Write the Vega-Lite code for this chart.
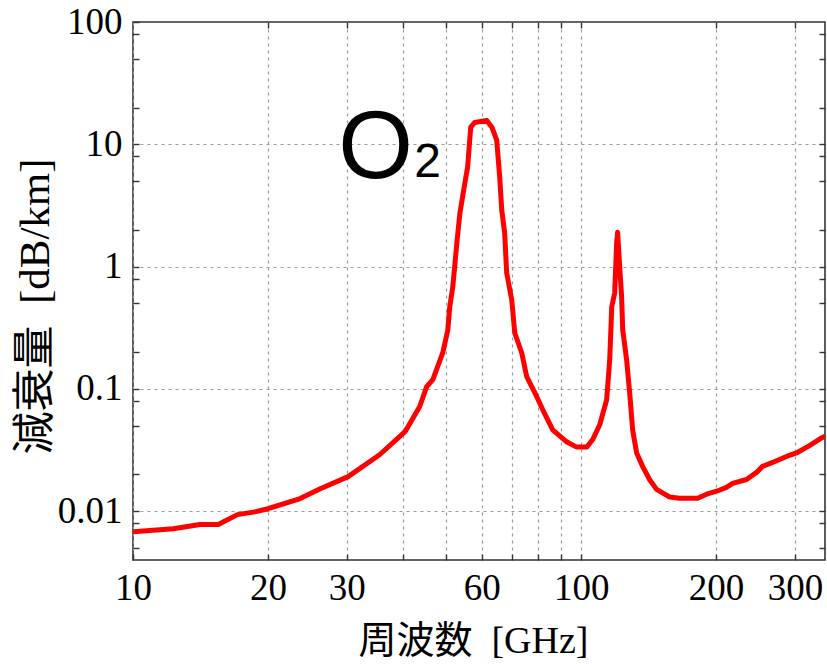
{
  "$schema": "https://vega.github.io/schema/vega-lite/v6.json",
  "width": 692,
  "height": 538,
  "autosize": "none",
  "padding": {"left": 133, "top": 22, "right": 2, "bottom": 104},
  "background": "white",
  "config": {
    "view": {"stroke": "#333333", "strokeWidth": 1.6},
    "axis": {
      "domain": false,
      "labelFont": "Liberation Serif",
      "labelFontSize": 37,
      "labelColor": "black",
      "titleFont": "Liberation Serif, Noto Sans CJK JP",
      "titleColor": "black",
      "titleFontWeight": "normal",
      "tickColor": "#333333",
      "tickWidth": 1.4,
      "tickSize": -6,
      "gridColor": "#9a9a9a",
      "gridDash": [3, 4],
      "gridWidth": 1.2
    }
  },
  "datasets": {
    "curve": [
      {"f": 10, "a": 0.0068},
      {"f": 12.3, "a": 0.0072},
      {"f": 14.1, "a": 0.0078},
      {"f": 15.5, "a": 0.0078},
      {"f": 17.1, "a": 0.0094},
      {"f": 18.7, "a": 0.0099},
      {"f": 20, "a": 0.0105},
      {"f": 23.6, "a": 0.0127},
      {"f": 26.1, "a": 0.0152},
      {"f": 30.2, "a": 0.0192},
      {"f": 35.5, "a": 0.029},
      {"f": 39.4, "a": 0.041},
      {"f": 40.5, "a": 0.045},
      {"f": 43.6, "a": 0.0716},
      {"f": 45.2, "a": 0.104},
      {"f": 46.7, "a": 0.12},
      {"f": 49.1, "a": 0.197},
      {"f": 50.4, "a": 0.304},
      {"f": 50.9, "a": 0.468},
      {"f": 51.7, "a": 0.68},
      {"f": 52.8, "a": 1.56},
      {"f": 53.6, "a": 2.7},
      {"f": 55.0, "a": 4.8},
      {"f": 55.8, "a": 6.5},
      {"f": 56.7, "a": 13.8},
      {"f": 57.9, "a": 15.1},
      {"f": 61.5, "a": 15.7},
      {"f": 63.2, "a": 13.8},
      {"f": 64.8, "a": 10.8},
      {"f": 65.8, "a": 5.4},
      {"f": 66.5, "a": 2.9},
      {"f": 67.5, "a": 1.88},
      {"f": 68.2, "a": 0.89},
      {"f": 70.0, "a": 0.535},
      {"f": 71.1, "a": 0.287},
      {"f": 73.7, "a": 0.197},
      {"f": 75.6, "a": 0.126},
      {"f": 79.6, "a": 0.0865},
      {"f": 82.1, "a": 0.0676},
      {"f": 86.4, "a": 0.0464},
      {"f": 92.8, "a": 0.037},
      {"f": 97.7, "a": 0.0335},
      {"f": 102.9, "a": 0.0335},
      {"f": 106.1, "a": 0.0386},
      {"f": 110, "a": 0.051},
      {"f": 114, "a": 0.0817},
      {"f": 115.8, "a": 0.173},
      {"f": 117, "a": 0.468},
      {"f": 118.8, "a": 0.61},
      {"f": 120, "a": 1.56},
      {"f": 120.6, "a": 1.91},
      {"f": 121.9, "a": 0.99},
      {"f": 123.1, "a": 0.57},
      {"f": 123.8, "a": 0.304},
      {"f": 126.3, "a": 0.173},
      {"f": 128.3, "a": 0.093},
      {"f": 130.3, "a": 0.046},
      {"f": 133, "a": 0.030},
      {"f": 137.1, "a": 0.0233},
      {"f": 142.1, "a": 0.0182},
      {"f": 147.3, "a": 0.0151},
      {"f": 157.5, "a": 0.0131},
      {"f": 165.8, "a": 0.0128},
      {"f": 181.9, "a": 0.0128},
      {"f": 190.5, "a": 0.0138},
      {"f": 200.5, "a": 0.0146},
      {"f": 211, "a": 0.0157},
      {"f": 217.7, "a": 0.0169},
      {"f": 233.9, "a": 0.0182},
      {"f": 246.2, "a": 0.0208},
      {"f": 253.9, "a": 0.0233},
      {"f": 267.3, "a": 0.0251},
      {"f": 287.2, "a": 0.0281},
      {"f": 302.3, "a": 0.030},
      {"f": 323.2, "a": 0.0344},
      {"f": 343.8, "a": 0.0398},
      {"f": 350, "a": 0.041}
    ],
    "labels": [
      {"f": 28.7, "a": 5.3, "t": "O", "kind": "main"},
      {"f": 42.4, "a": 5.4, "t": "2", "kind": "sub"}
    ]
  },
  "layer": [
    {
      "data": {"name": "curve"},
      "mark": {"type": "line", "color": "#ff0000", "strokeWidth": 5, "strokeJoin": "round", "clip": true},
      "encoding": {
        "x": {
          "field": "f", "type": "quantitative",
          "scale": {"type": "log", "domain": [10, 350], "nice": false},
          "axis": {
            "orient": "bottom",
            "values": [10, 20, 30, 40, 50, 60, 70, 80, 90, 100, 200, 300],
            "labelExpr": "indexof([10,20,30,60,100,200,300], datum.value) >= 0 ? '' + datum.value : ''",
            "labelPadding": 16,
            "labelFlush": false,
            "grid": true,
            "title": "周波数\u00a0\u00a0[GHz]",
            "titleFontSize": 38,
            "titleX": 340,
            "titleY": 92,
            "titleBaseline": "alphabetic",
            "titleAnchor": "middle"
          }
        },
        "y": {
          "field": "a", "type": "quantitative",
          "scale": {"type": "log", "domain": [0.004, 100], "nice": false},
          "axis": {
            "orient": "left",
            "values": [0.005, 0.008, 0.01, 0.02, 0.05, 0.08, 0.1, 0.2, 0.5, 0.8, 1, 2, 5, 8, 10, 20, 50, 80, 100],
            "labelExpr": "indexof([0.01,0.1,1,10,100], datum.value) >= 0 ? '' + datum.value : ''",
            "gridOpacity": {"condition": {"test": "indexof([0.01,0.1,1,10], datum.value) >= 0", "value": 1}, "value": 0},
            "labelPadding": 17,
            "grid": true,
            "title": "減衰量\u00a0\u00a0[dB/km]",
            "titleFontSize": 43,
            "titlePadding": 0,
            "titleY": 284
          }
        }
      }
    },
    {
      "data": {"name": "curve"},
      "mark": {"type": "line", "opacity": 0},
      "encoding": {
        "x": {
          "field": "f", "type": "quantitative",
          "axis": {
            "orient": "top",
            "values": [20, 30, 40, 50, 60, 70, 80, 90, 100, 200, 300],
            "labels": false,
            "grid": false,
            "title": null
          }
        },
        "y": {
          "field": "a", "type": "quantitative",
          "axis": {
            "orient": "right",
            "values": [0.005, 0.008, 0.01, 0.02, 0.05, 0.08, 0.1, 0.2, 0.5, 0.8, 1, 2, 5, 8, 10, 20, 50, 80],
            "labels": false,
            "grid": false,
            "title": null
          }
        }
      }
    },
    {
      "data": {"name": "labels"},
      "transform": [{"filter": "datum.kind == 'main'"}],
      "mark": {"type": "text", "font": "Liberation Sans", "fontSize": 96, "align": "left", "baseline": "alphabetic", "color": "black"},
      "encoding": {
        "x": {"field": "f", "type": "quantitative", "axis": null},
        "y": {"field": "a", "type": "quantitative", "axis": null},
        "text": {"field": "t"}
      }
    },
    {
      "data": {"name": "labels"},
      "transform": [{"filter": "datum.kind == 'sub'"}],
      "mark": {"type": "text", "font": "Liberation Sans", "fontSize": 48, "align": "left", "baseline": "alphabetic", "color": "black"},
      "encoding": {
        "x": {"field": "f", "type": "quantitative", "axis": null},
        "y": {"field": "a", "type": "quantitative", "axis": null},
        "text": {"field": "t"}
      }
    }
  ],
  "resolve": {"axis": {"x": "independent", "y": "independent"}}
}
